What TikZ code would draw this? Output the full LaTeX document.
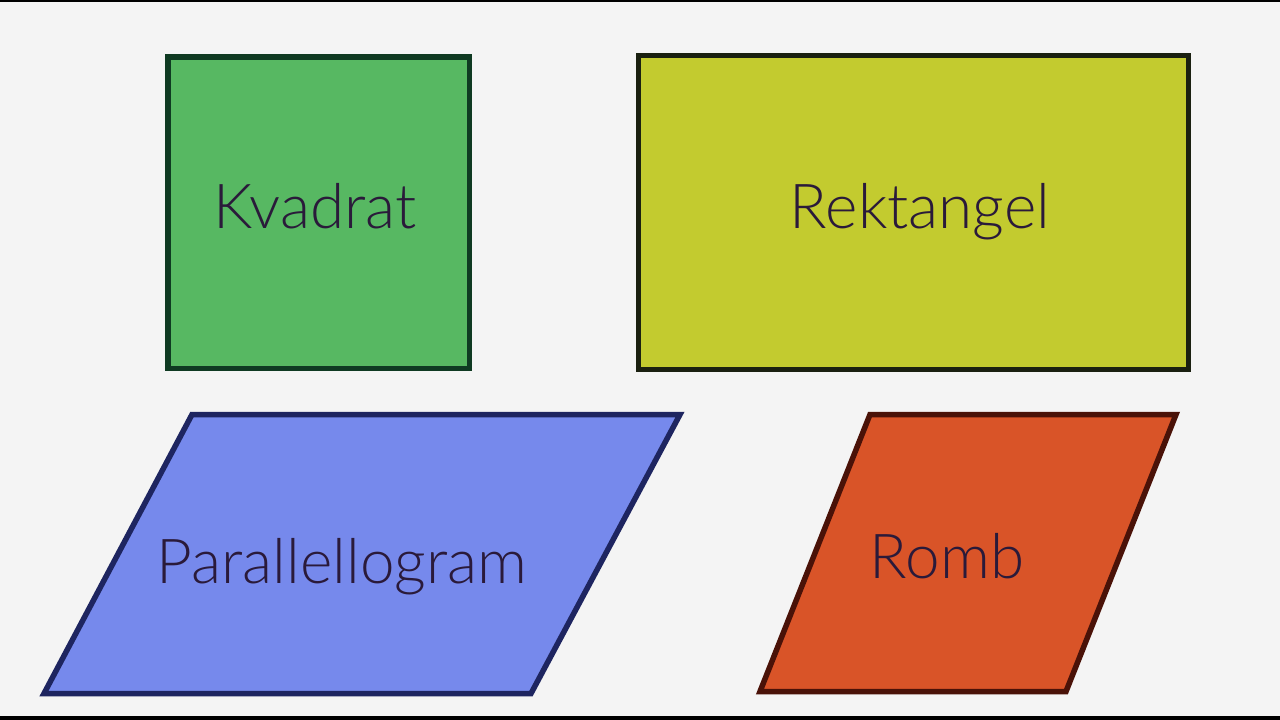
\documentclass[tikz,border=0pt]{standalone}
\usepackage{fontspec}
\newfontfamily\lbl{Lato Light}
\definecolor{bg}{HTML}{F4F4F4}
\definecolor{sqfill}{HTML}{57B862}\definecolor{sqline}{HTML}{0F3A22}
\definecolor{refill}{HTML}{C3CB2F}\definecolor{reline}{HTML}{1A2010}
\definecolor{pafill}{HTML}{7689EC}\definecolor{paline}{HTML}{1E2560}
\definecolor{rofill}{HTML}{D95428}\definecolor{roline}{HTML}{4A1208}
\definecolor{ink}{HTML}{2A1A3A}
\begin{document}
\begin{tikzpicture}[x=1pt,y=-1pt,
  outl/.style={line width=5.5pt,line join=miter},
  txt/.style={font=\lbl\fontsize{62}{70}\selectfont,text=ink,anchor=base,inner sep=0pt}]
\fill[bg] (0,0) rectangle (1280,720);
\useasboundingbox (0,0) rectangle (1280,720);
\fill[black] (0,0) rectangle (1280,2);
\fill[black] (0,716) rectangle (1280,720);
% square
\draw[outl,fill=sqfill,draw=sqline] (168,57) rectangle (469.5,368.5);
% rectangle
\draw[outl,fill=refill,draw=reline] (638.5,55.5) rectangle (1188.5,369.5);
% parallelogram
\draw[outl,fill=pafill,draw=paline] (44,693.5) -- (531,693.5) -- (680,414.5) -- (192,414.5) -- cycle;
% rhombus
\draw[outl,fill=rofill,draw=roline] (760,691.5) -- (1066,691.5) -- (1176,414.5) -- (870,414.5) -- cycle;
\node[txt] (kv) at (315,228) {Kvadrat};
\node[txt] (rk) at (920,228) {Rektangel};
\node[txt] (pg) at (342,583) {Parallellogram};
\node[txt] (rb) at (947,578) {Romb};
\end{tikzpicture}
\end{document}
